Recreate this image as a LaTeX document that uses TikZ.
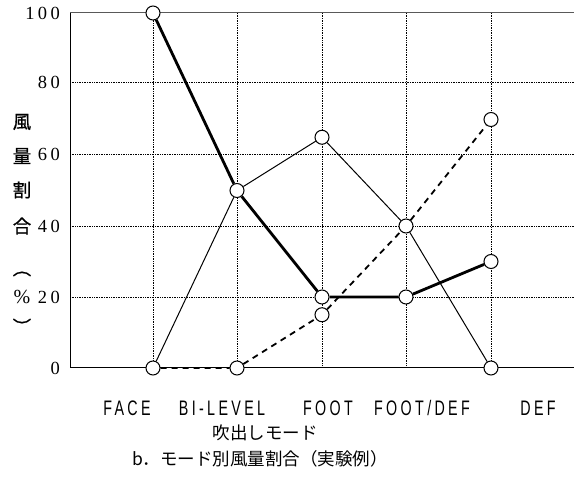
\documentclass[tikz,border=0pt]{standalone}
\usepackage{fontspec}
\usepackage{graphicx}
\setmainfont{Liberation Serif}
\newfontfamily\jp[FakeBold=0.6]{Noto Sans CJK JP}
\newfontfamily\jpc{Noto Sans CJK JP}
\newfontfamily\cond[FakeStretch=0.68,LetterSpace=16]{Liberation Sans}
\newfontfamily\num[LetterSpace=18]{Liberation Serif}
\begin{document}
\begin{tikzpicture}[x=1pt,y=-1pt,
  gridline/.style={densely dotted,line width=0.7pt},
  axisline/.style={line width=1pt},
  pt/.style={circle,draw,fill=white,line width=1pt,minimum size=14pt,inner sep=0pt},
  thickser/.style={line width=2.8pt},
  thinser/.style={line width=1pt},
  dashser/.style={line width=1.8pt,dash pattern=on 6pt off 5pt},
  tick/.style={anchor=east,font=\num\fontsize{18.5}{18.5}\selectfont,inner sep=0pt},
  ylab/.style={font=\jp\fontsize{18.5}{18.5}\selectfont,inner sep=0pt},
  xlab/.style={font=\cond\fontsize{21}{21}\selectfont,inner sep=0pt},
  captext/.style={font=\jpc\fontsize{17.5}{17.5}\selectfont,inner sep=0pt}]
\useasboundingbox (0,0) rectangle (574,500);
% grid
\foreach \y in {82,154,226,297} \draw[gridline] (70,\y) -- (574,\y);
\foreach \x in {153,237,322,406,491} \draw[gridline] (\x,13) -- (\x,368);
% axes
\draw[axisline,gray!70!black] (70,13) -- (574,13);
\draw[axisline] (70,13) -- (70,368) -- (574,368);
% tick labels
\node[tick] (t100) at (60,13) {100};
\node[tick] (t80) at (60,82) {80};
\node[tick] (t60) at (60,154) {60};
\node[tick] (t40) at (60,226) {40};
\node[tick] (t20) at (60,297) {20};
\node[tick] (t0) at (60,368) {0};
% y label
\node[ylab] (l1) at (22,122) {風};
\node[ylab] (l2) at (22,156) {量};
\node[ylab] (l3) at (22,190) {割};
\node[ylab] (l4) at (22,226) {合};
\node[ylab] (l5) at (22,268) {\rotatebox{-90}{（}};
\node[tick,anchor=center,font=\fontsize{20}{20}\selectfont] (l6) at (22,297) {\%};
\node[ylab] (l7) at (22,327) {\rotatebox{-90}{）}};
% points
\node[pt] (a1) at (153,13) {};
\node[pt] (a2) at (237,190.5) {};
\node[pt] (a3) at (322,297) {};
\node[pt] (a4) at (406,297) {};
\node[pt] (a5) at (491,261.5) {};
\node[pt] (b1) at (153,368) {};
\node[pt] (b3) at (322,137.25) {};
\node[pt] (b4) at (406,226) {};
\node[pt] (b5) at (491,368) {};
\node[pt] (c2) at (237,368) {};
\node[pt] (c3) at (322,314.75) {};
\node[pt] (c5) at (491,119.5) {};
% series
\draw[thickser] (a1) -- (a2) -- (a3) -- (a4) -- (a5);
\draw[thinser] (b1) -- (a2) -- (b3) -- (b4) -- (b5);
\draw[dashser] (b1) -- (c2) -- (c3) -- (b4) -- (c5);
% x labels
\node[xlab] (x1) at (127,408) {FACE};
\node[xlab] (x2) at (222,408) {BI-LEVEL};
\node[xlab] (x3) at (328,408) {FOOT};
\node[xlab] (x4) at (422,408) {FOOT/DEF};
\node[xlab] (x5) at (538,408) {DEF};
% captions
\node[captext] (c1) at (265,433) {吹出しモード};
\node[captext] (c0) at (260,459) {b．モード別風量割合（実験例）};
\end{tikzpicture}
\end{document}
